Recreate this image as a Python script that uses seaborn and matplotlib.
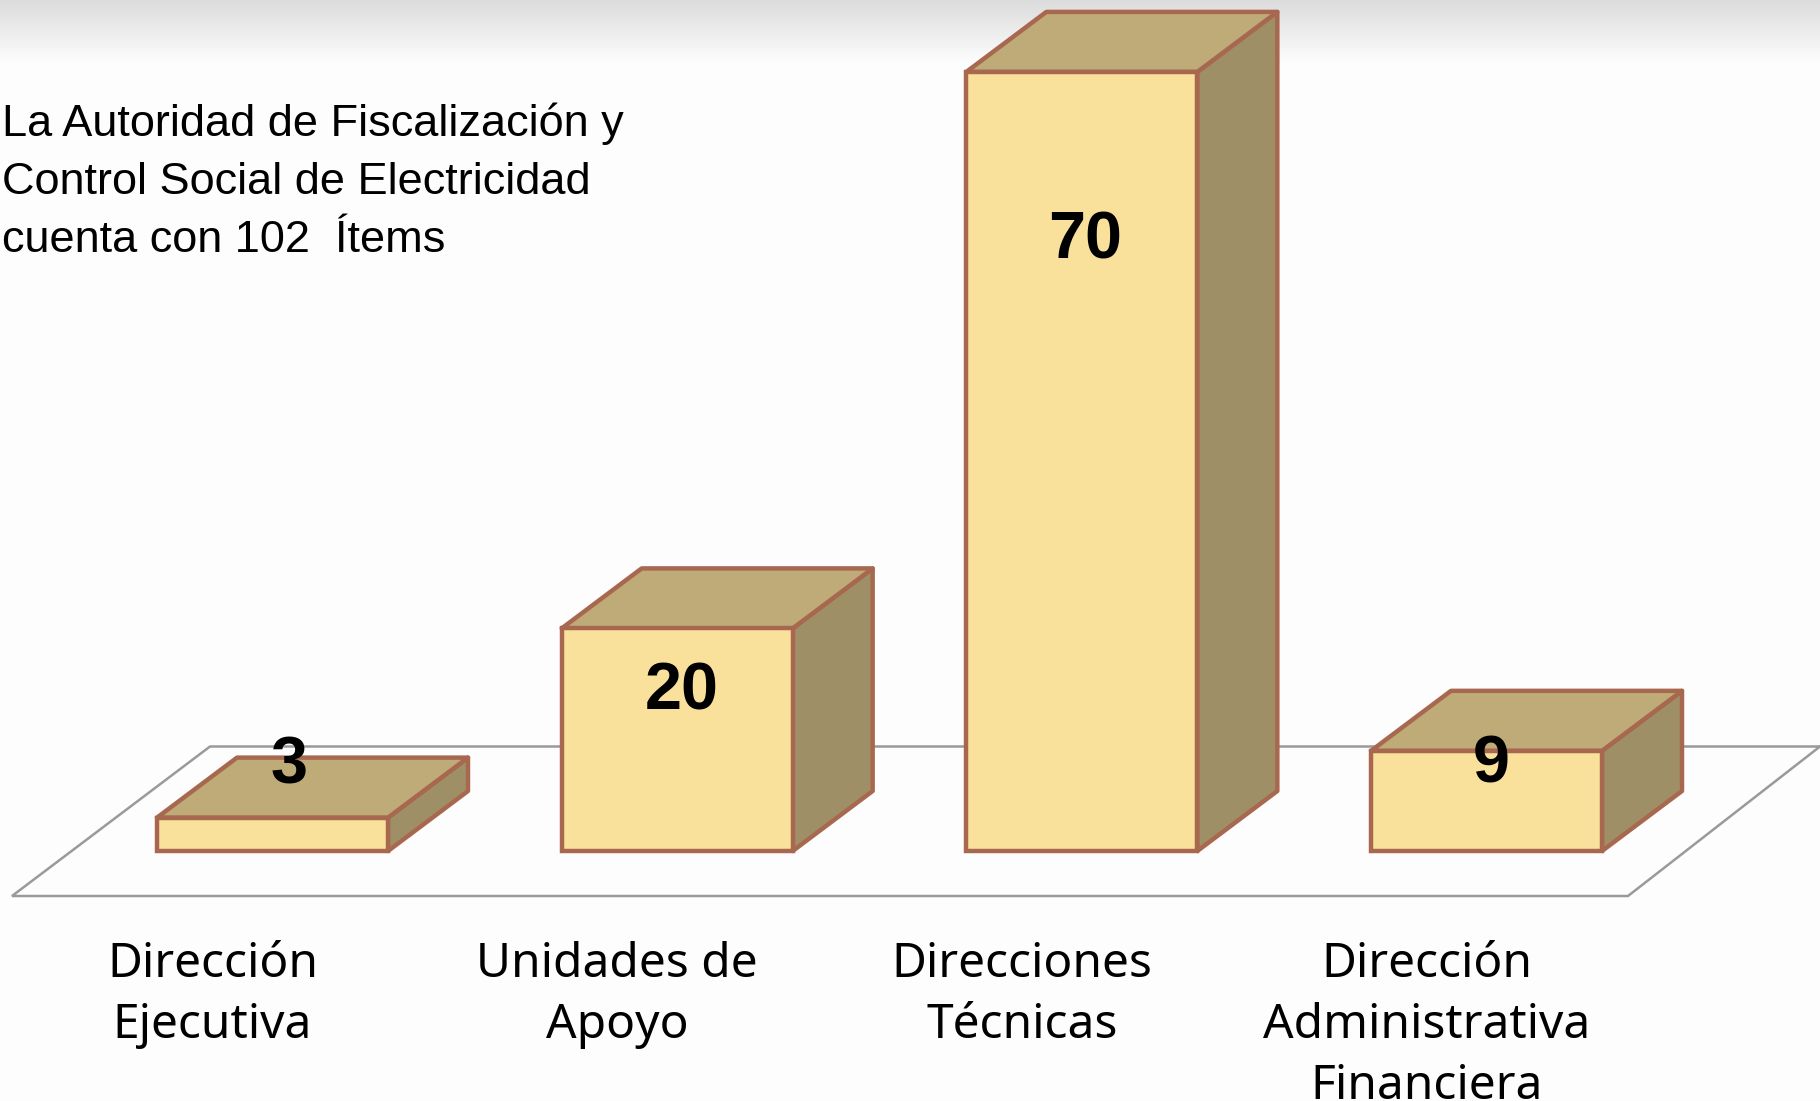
# -*- coding: utf-8 -*-
import numpy as np
import pandas as pd
import matplotlib.pyplot as plt
from matplotlib.patches import Polygon
from matplotlib.transforms import ScaledTranslation
import seaborn as sns

sns.set_theme(style='white')

### data
areas = ['Dirección\nEjecutiva', 'Unidades de\nApoyo', 'Direcciones\nTécnicas',
         'Dirección\nAdministrativa\nFinanciera']
items = [3, 20, 70, 9]
note = 'La Autoridad de Fiscalización y\nControl Social de Electricidad\ncuenta con 102  Ítems'

### label position in px from the top of the bar (negative is below)
label_dx = [17, 4.5, 3, 4.5]
label_dy = [51, -64, -170, -15]

front_color = '#FAE19B'
top_color = '#BEAB78'
side_color = '#9F8F66'
edge_color = '#A86850'
floor_color = '#9A9A9A'
page_color = '#FDFDFD'

W, H, DPI = 1820, 1101, 100
base_y = 851          # px from top, where the bars stand
px_per_item = 11.13
px_per_cat = 404.67
first_cat = 272.5
depth_x, depth_y = 80, 60

fig = plt.figure(figsize=(W / DPI, H / DPI), dpi=DPI, facecolor=page_color)

### background: grey band at the top and the floor of the chart
bg = fig.add_axes([0, 0, 1, 1])
bg.set_xlim(0, W)
bg.set_ylim(H, 0)
bg.axis('off')
shade = np.linspace(0.86, 0.992, 65)[:, None]
bg.imshow(shade, cmap='gray', vmin=0, vmax=1, extent=(0, W, 65, 0), aspect='auto')
bg.set_xlim(0, W)
bg.set_ylim(H, 0)
bg.plot([1820, 210, 12, 1628, 1820], [746.5, 746.5, 896, 896, 746.5],
        color=floor_color, lw=1.8, solid_joinstyle='miter')

### the bars
ax = fig.add_axes([0, (H - base_y) / H, 1, base_y / H])
ax.patch.set_visible(False)
df = pd.DataFrame({'area': areas, 'items': items})
sns.barplot(data=df, x='area', y='items', color=front_color, saturation=1,
            width=231 / px_per_cat, edgecolor=edge_color, linewidth=3.2, ax=ax, zorder=3,
            clip_on=False)
ax.set_xlim(-first_cat / px_per_cat, (W - first_cat) / px_per_cat)
ax.set_ylim(0, base_y / px_per_item)

### 3d faces from the bars that seaborn drew
dx = depth_x / px_per_cat
dy = depth_y / px_per_item
for bar in ax.patches[:len(items)]:
    x0, w, h = bar.get_x(), bar.get_width(), bar.get_height()
    x1 = x0 + w
    side = [(x1, 0), (x1 + dx, dy), (x1 + dx, h + dy), (x1, h)]
    top = [(x0, h), (x0 + dx, h + dy), (x1 + dx, h + dy), (x1, h)]
    for pts, col in [(side, side_color), (top, top_color)]:
        ax.add_patch(Polygon(pts, closed=True, facecolor=col, edgecolor=edge_color,
                             linewidth=3.2, joinstyle='round', zorder=2, clip_on=False))

### value labels
for i, val in enumerate(items):
    ax.annotate(str(val), xy=(i, val), xytext=(label_dx[i], label_dy[i]),
                textcoords='offset pixels', ha='center', va='center', fontsize=48,
                fontweight='bold', family='Liberation Sans', color='black', zorder=5)

### category labels, moved left of the bars like in the original
sns.despine(ax=ax, left=True, bottom=True)
ax.set_xlabel('')
ax.set_ylabel('')
ax.set_yticks([])
ax.tick_params(axis='x', length=0, pad=65)
ax.set_xticks(range(len(areas)))
ax.set_xticklabels(areas, fontsize=34.5, family='Noto Sans', color='black', linespacing=1.38)
shift = ScaledTranslation(-60 / DPI, 0, fig.dpi_scale_trans)
for lab in ax.get_xticklabels():
    lab.set_transform(lab.get_transform() + shift)

### note at the top left
fig.text(2 / W, 1 - 103 / H, note, ha='left', va='top', fontsize=32.5,
         family='Liberation Sans', color='black', linespacing=1.52)

fig.savefig('out.png', dpi=DPI, facecolor=page_color)
